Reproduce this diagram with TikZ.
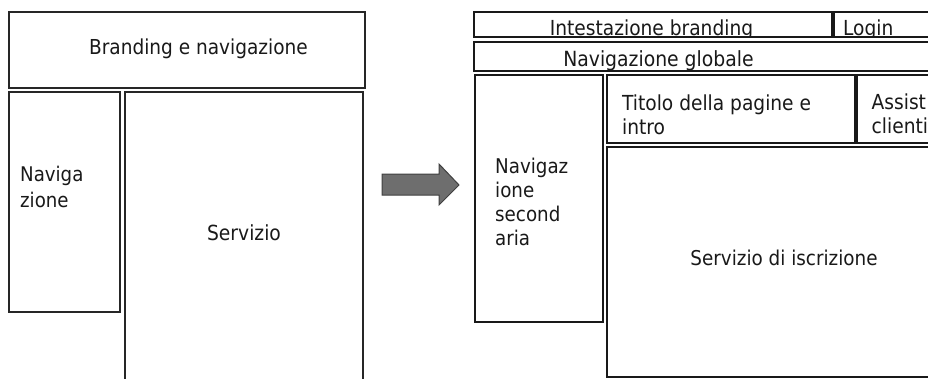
\documentclass[tikz,border=0pt]{standalone}
\usepackage{fontspec}
\setmainfont{DejaVu Sans Condensed}
\begin{document}
\begin{tikzpicture}[x=1pt,y=-1pt,
  lbox/.style={draw=black!85,line width=1.2pt},
  rbox/.style={draw=black!90,line width=1.7pt},
  lbl/.style={inner sep=0pt,text=black!90},
  fs/.style={font=\fontsize{#1}{24}\selectfont},
  fsl/.style={font=\fontsize{#1}{26}\selectfont},
  arrowfill/.style={fill=black!57,draw=black!75,line width=1pt,line join=miter}]
\useasboundingbox (0,0) rectangle (928,378);
\clip (0,0) rectangle (928,378);

% ---- current layout ----
\draw[lbox] (9,12) rectangle (365,88);
\draw[lbox] (9,92) rectangle (120,312);
\draw[lbox] (125,382) -- (125,92) -- (363,92) -- (363,382);
\node[lbl,fs=20.6,anchor=base] (brand) at (198.5,54) {Branding e navigazione};
% multi-line labels are anchored on the baseline of their last line
\node[lbl,fsl=20.2,anchor=base west,align=left] (nav) at (20,207) {Naviga\\zione};
\node[lbl,fs=20.8,anchor=base] (serv) at (244,240.5) {Servizio};

% ---- block arrow ----
\draw[arrowfill] (382,174) -- (439,174) -- (439,164) -- (459,185)
  -- (439,205) -- (439,195) -- (382,195) -- cycle;

% ---- proposed layout ----
\begin{scope}
  \clip (474,12) rectangle (832,37.5);
  \node[lbl,fs=20.7,anchor=base] (head) at (651.5,35) {Intestazione branding};
\end{scope}
\begin{scope}
  \clip (834,12) rectangle (930,37.5);
  \node[lbl,fs=20.7,anchor=base west] (login) at (843,35) {Login};
\end{scope}
\draw[rbox] (474,12) rectangle (832,37);
\draw[rbox] (834,12) rectangle (940,37);
\draw[rbox] (474,42) rectangle (940,71);
\node[lbl,fs=20.9,anchor=base] (glob) at (658.5,66.5) {Navigazione globale};

\draw[rbox] (475,75) rectangle (603,322);
\node[lbl,fs=20.3,anchor=base west,align=left] (sec) at (495,245)
  {Navigaz\\ione\\second\\aria};

\draw[rbox] (607,75) rectangle (855,143);
\node[lbl,fs=20.7,anchor=base west,align=left] (title) at (622,134)
  {Titolo della pagine e\\intro};

\draw[rbox] (857,75) rectangle (940,143);
\node[lbl,fs=20.7,anchor=base west,align=left] (assist) at (871.5,133)
  {Assist\\clienti};

\draw[rbox] (607,147) rectangle (940,377);
\node[lbl,fs=20.4,anchor=base] (iscr) at (784,265) {Servizio di iscrizione};
\end{tikzpicture}
\end{document}
